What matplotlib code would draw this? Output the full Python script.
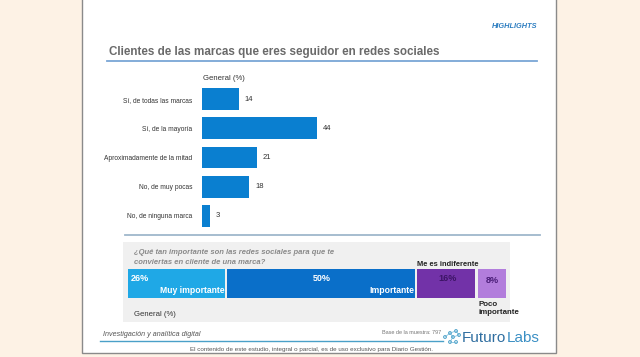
import matplotlib
matplotlib.use("Agg")
from matplotlib import pyplot as plt
from matplotlib.patches import Rectangle, Circle

plt.rcParams['font.family'] = ['Liberation Sans', 'DejaVu Sans']

# data
categories = ["Sí, de todas las marcas", "Sí, de la mayoría", "Aproximadamente de la mitad",
              "No, de muy pocas", "No, de ninguna marca"]
values = [14, 44, 21, 18, 3]

imp_labels = ["Muy importante", "Importante", "Me es indiferente", "Poco importante"]
imp_values = [26, 50, 16, 8]
imp_colors = ["#1fa8e6", "#0a6fc9", "#7232a8", "#b27ddc"]

W, H = 640, 357
fig = plt.figure(figsize=(W / 100, H / 100), dpi=100)
fig.patch.set_facecolor("#fdf2e5")

# background layer in pixel coords (y goes down)
bg = fig.add_axes([0, 0, 1, 1])
bg.set_xlim(0, W)
bg.set_ylim(H, 0)
bg.axis("off")

bg.add_patch(Rectangle((82, -2), 474, 355, facecolor="white", edgecolor="#8a8a8a", lw=1))
bg.add_patch(Rectangle((123, 242), 387, 80, facecolor="#f0f0f0", edgecolor="none"))

bg.text(537, 27, "HIGHLIGHTS", color="#2f7fc1", fontsize=5.3, fontweight="bold",
        style="italic", ha="right", va="center")
bg.text(109, 52, "Clientes de las marcas que eres seguidor en redes sociales", color="#6a6a6a",
        fontsize=8.4, fontweight="bold", ha="left", va="center")
bg.plot([107, 537], [61, 61], color="#7aa6d6", lw=1.3)
bg.text(203, 78, "General (%)", fontsize=5.6, color="#333333", ha="left", va="center")
bg.plot([125, 540], [235, 235], color="#9fb7cc", lw=1.3)

bg.text(134, 252, "¿Qué tan importante son las redes sociales para que te", fontsize=5.5,
        color="#8a8a8a", style="italic", fontweight="bold", ha="left", va="center")
bg.text(134, 262, "conviertas en cliente de una marca?", fontsize=5.5,
        color="#8a8a8a", style="italic", fontweight="bold", ha="left", va="center")
bg.text(134, 315, "General (%)", fontsize=5.6, color="#333333", ha="left", va="center")

# footer
bg.text(103, 334, "Investigación y analítica digital", fontsize=5.1, color="#555555",
        style="italic", ha="left", va="center")
bg.plot([100, 443], [341, 341], color="#4aa0c8", lw=1)
bg.text(441, 333, "Base de la muestra: 797", fontsize=4, color="#777777", ha="right", va="center")
bg.text(311, 349, "El contenido de este estudio, integral o parcial, es de uso exclusivo para Diario Gestión.",
        fontsize=4.5, color="#555555", ha="center", va="center")
# small network icon of the logo
nodes = [(445, 337), (450, 333), (456, 331), (453, 337), (459, 335), (450, 342), (456, 342)]
for a, b in [(0, 1), (1, 2), (1, 3), (3, 4), (3, 5), (5, 6), (2, 4)]:
    bg.plot([nodes[a][0], nodes[b][0]], [nodes[a][1], nodes[b][1]], color="#6fb6d8", lw=0.5)
for x, y in nodes:
    bg.add_patch(Circle((x, y), 1.4, facecolor="white", edgecolor="#4aa0c8", lw=0.7))
bg.text(462, 338, "Futuro", fontsize=11, color="#2f6ea0", ha="left", va="center")
bg.text(507, 338, "Labs", fontsize=11, color="#3a8fc4", ha="left", va="center")

# main bar chart
ax = fig.add_axes([202 / W, 1 - 230.5 / H, 130.5 / W, 146 / H])
ypos = list(range(len(categories)))
ax.barh(ypos, values, height=0.75, color="#0a7fd0")
ax.set_xlim(0, 50)
ax.set_ylim(len(categories) - 0.5, -0.5)
ax.set_yticks(ypos)
ax.set_yticklabels(categories, fontsize=4.8, color="#333333")
ax.tick_params(axis="y", length=0, pad=7)
ax.set_xticks([])
for s in ax.spines.values():
    s.set_visible(False)
ax.patch.set_alpha(0)
for y, v in zip(ypos, values):
    ax.text(v + 2.3, y, str(v), fontsize=5.5, color="#333333", va="center", ha="left")

# stacked importance bar
ax2 = fig.add_axes([128 / W, 1 - 298 / H, 380 / W, 29 / H])
ax2.set_xlim(0, 100)
ax2.set_ylim(0, 1)
ax2.axis("off")
left = 0
for lab, v, c in zip(imp_labels, imp_values, imp_colors):
    ax2.barh(0.5, v - 0.6, left=left, height=1, color=c)
    left += v
ax2.text(0.7, 0.68, f"{imp_values[0]}%", color="white", fontsize=6.5, fontweight="bold", va="center")
ax2.text(25.3, 0.25, imp_labels[0], color="white", fontsize=6.2, fontweight="bold", va="center", ha="right")
ax2.text(26 + 25, 0.68, f"{imp_values[1]}%", color="white", fontsize=6.5, fontweight="bold", va="center", ha="center")
ax2.text(75.3, 0.25, imp_labels[1], color="white", fontsize=6.2, fontweight="bold", va="center", ha="right")
ax2.text(76 + 8, 0.68, f"{imp_values[2]}%", color="#3d1466", fontsize=6.5, fontweight="bold", va="center", ha="center")
ax2.text(76, 1.17, imp_labels[2], color="#222222", fontsize=5.4, fontweight="bold", va="center", ha="left")
ax2.text(92 + 4, 0.6, f"{imp_values[3]}%", color="#4a1d78", fontsize=6.5, fontweight="bold", va="center", ha="center")
ax2.text(92.2, -0.36, "Poco\nimportante", color="#222222", fontsize=5.7, fontweight="bold",
         va="center", ha="left", linespacing=1.15)

fig.savefig("out.png", dpi=100, facecolor=fig.get_facecolor())
